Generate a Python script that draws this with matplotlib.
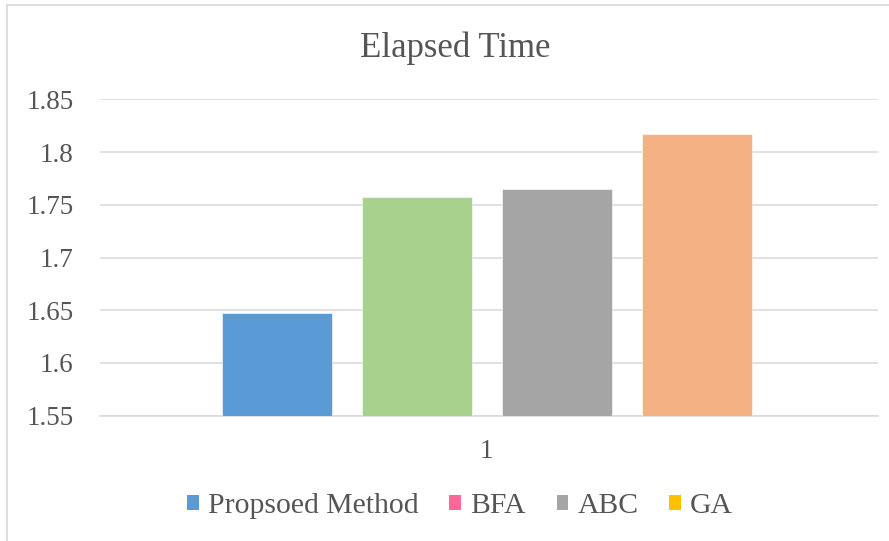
import matplotlib
matplotlib.use("Agg")
import matplotlib.pyplot as plt
from matplotlib.patches import Rectangle
from matplotlib.lines import Line2D

# --- data ---
categories = ["1"]
series_names = ["Propsoed Method", "BFA", "ABC", "GA"]
elapsed = [1.647, 1.757, 1.765, 1.817]
bar_colors = ["#5B9BD5", "#A9D18E", "#A5A5A5", "#F4B183"]
legend_colors = ["#5B9BD5", "#FF6699", "#A5A5A5", "#FFC000"]
y_ticks = [1.55, 1.60, 1.65, 1.70, 1.75, 1.80, 1.85]
y_tick_labels = ["1.55", "1.6", "1.65", "1.7", "1.75", "1.8", "1.85"]
title = "Elapsed Time"

# --- style ---
W, H, DPI = 889, 541, 100
text_color = "#555555"
grid_color = "#D9D9D9"
plt.rcParams["font.family"] = ["Liberation Serif", "DejaVu Serif"]

fig = plt.figure(figsize=(W / DPI, H / DPI), dpi=DPI)
fig.patch.set_facecolor("white")

# plot area in pixel coordinates
left_px, right_px, top_px, bottom_px = 100, 878, 99.3, 415.7
ax = fig.add_axes([left_px / W, 1 - bottom_px / H,
                   (right_px - left_px) / W, (bottom_px - top_px) / H])

step = 0.18
bar_w = 0.1414
for i, (name, val, col) in enumerate(zip(series_names, elapsed, bar_colors)):
    ax.bar(0 + (i - 1.5) * step, val - y_ticks[0], bottom=y_ticks[0],
           width=bar_w, color=col, edgecolor="white", linewidth=0.4, zorder=3)

ax.set_xlim(-0.497, 0.503)
ax.set_ylim(y_ticks[0], y_ticks[-1])
ax.set_yticks(y_ticks)
ax.set_yticklabels(y_tick_labels)
ax.set_xticks([0])
ax.set_xticklabels(categories)
ax.tick_params(axis="both", length=0, labelsize=19.5, colors=text_color)
ax.tick_params(axis="y", pad=19)
ax.tick_params(axis="x", pad=17)
ax.yaxis.grid(True, color=grid_color, linewidth=1.1, zorder=0)
ax.set_axisbelow(True)
for side in ["top", "right", "left"]:
    ax.spines[side].set_visible(False)
ax.spines["bottom"].set_color(grid_color)
ax.spines["bottom"].set_linewidth(1.1)

# title
fig.text(455 / W, 1 - 48 / H, title, ha="center", va="center",
         fontsize=25, color=text_color)

# legend
handles = [Rectangle((0, 0), 1, 1, facecolor=c, edgecolor="none")
           for c in legend_colors]
fig.legend(handles, series_names, loc="center",
           bbox_to_anchor=(460 / W, 1 - 506 / H), ncol=4, frameon=False,
           fontsize=21.3, handlelength=0.4, handleheight=0.4,
           handletextpad=0.3, columnspacing=1.05, labelcolor=text_color,
           borderaxespad=0, borderpad=0)

# chart area border (left and top edges)
fig.add_artist(Line2D([7 / W, 7 / W], [0, 1 - 5 / H], color=grid_color,
                      linewidth=1.2, transform=fig.transFigure))
fig.add_artist(Line2D([7 / W, 1], [1 - 5 / H, 1 - 5 / H], color=grid_color,
                      linewidth=1.2, transform=fig.transFigure))

fig.savefig("out.png", dpi=DPI, facecolor="white")
